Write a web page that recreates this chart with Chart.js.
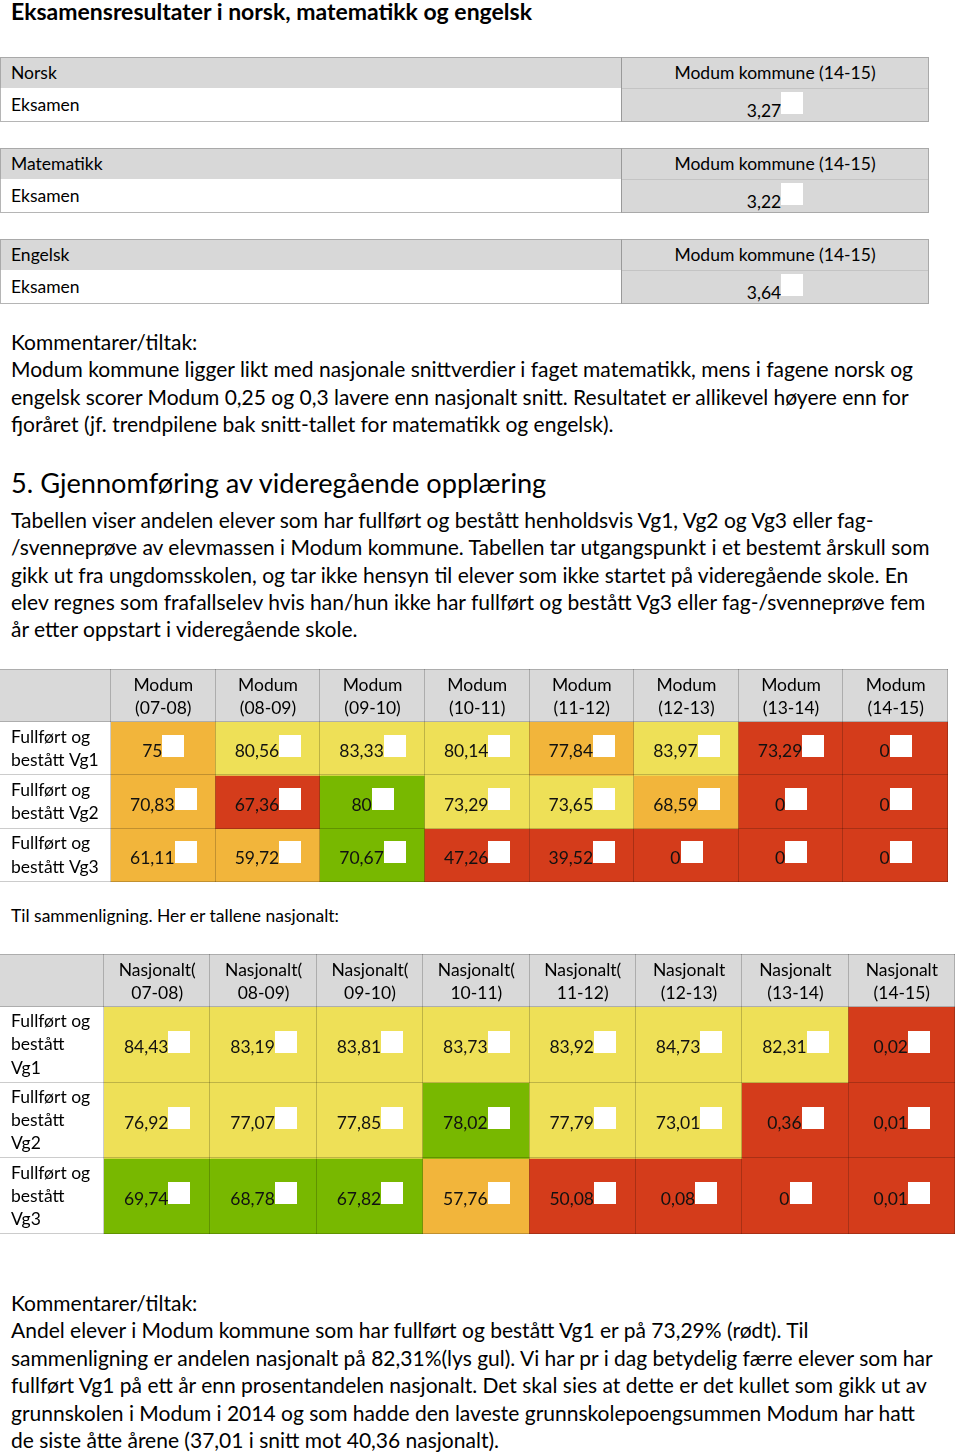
<!DOCTYPE html>
<html>
<head>
<meta charset="utf-8">
<script src="https://cdn.jsdelivr.net/npm/chart.js@4.4.0/dist/chart.umd.min.js"></script>
<style>
  body { margin: 0; width: 960px; height: 1452px; position: relative; overflow: hidden;
         font-family: Lato, 'Noto Sans', sans-serif; color: #000; background: #fff; }
  .txt { position: absolute; left: 11px; white-space: nowrap; }
  .st { position: absolute; left: 0; width: 929px; height: 65px; }
  .st div { position: absolute; box-sizing: border-box; }
  .sq { display: inline-block; width: 22px; height: 22px; background: #fff; vertical-align: 3px; }
  .wrap { position: absolute; left: 0; }
</style>
</head>
<body>
<div class="txt" style="top:-4px;font-size:23px;font-weight:bold;line-height:30px">Eksamensresultater i norsk, matematikk og engelsk</div>
<div id="smallTables"></div>
<div class="txt" style="top:328px;font-size:21px;line-height:27.3px">Kommentarer/tiltak:<br>Modum kommune ligger likt med nasjonale snittverdier i faget matematikk, mens i fagene norsk og<br>engelsk scorer Modum 0,25 og 0,3 lavere enn nasjonalt snitt. Resultatet er allikevel høyere enn for<br>fjoråret (jf. trendpilene bak snitt-tallet for matematikk og engelsk).</div>
<div class="txt" style="top:463px;font-size:27.2px;line-height:40px">5. Gjennomføring av videregående opplæring</div>
<div class="txt" style="top:506px;font-size:21px;line-height:27.3px">Tabellen viser andelen elever som har fullført og bestått henholdsvis Vg1, Vg2 og Vg3 eller fag-<br>/svenneprøve av elevmassen i Modum kommune. Tabellen tar utgangspunkt i et bestemt årskull som<br>gikk ut fra ungdomsskolen, og tar ikke hensyn til elever som ikke startet på videregående skole. En<br>elev regnes som frafallselev hvis han/hun ikke har fullført og bestått Vg3 eller fag-/svenneprøve fem<br>år etter oppstart i videregående skole.</div>
<div class="wrap" style="top:669px;width:949px;height:214px"><canvas id="modumTable"></canvas></div>
<div class="txt" style="top:904px;font-size:17.5px;line-height:24px">Til sammenligning. Her er tallene nasjonalt:</div>
<div class="wrap" style="top:954px;width:956px;height:281px"><canvas id="nasjTable"></canvas></div>
<div class="txt" style="top:1289px;font-size:21px;line-height:27.4px">Kommentarer/tiltak:<br>Andel elever i Modum kommune som har fullført og bestått Vg1 er på 73,29% (rødt). Til<br>sammenligning er andelen nasjonalt på 82,31%(lys gul). Vi har pr i dag betydelig færre elever som har<br>fullført Vg1 på ett år enn prosentandelen nasjonalt. Det skal sies at dette er det kullet som gikk ut av<br>grunnskolen i Modum i 2014 og som hadde den laveste grunnskolepoengsummen Modum har hatt<br>de siste åtte årene (37,01 i snitt mot 40,36 nasjonalt).</div>

<script>
// exam results (Modum kommune 14-15)
var subjects = ['Norsk', 'Matematikk', 'Engelsk'];
var examScores = [3.27, 3.22, 3.64];

var years = ['07-08', '08-09', '09-10', '10-11', '11-12', '12-13', '13-14', '14-15'];
var modumCols = years.map((y) => ['Modum', '(' + y + ')']);
var nasjCols = years.map((y, i) => i < 5 ? ['Nasjonalt(', y + ')'] : ['Nasjonalt', '(' + y + ')']);

var modumRows = [['Fullført og', 'bestått Vg1'], ['Fullført og', 'bestått Vg2'], ['Fullført og', 'bestått Vg3']];
var nasjRows = [['Fullført og', 'bestått', 'Vg1'], ['Fullført og', 'bestått', 'Vg2'], ['Fullført og', 'bestått', 'Vg3']];

var modumVg1 = [75, 80.56, 83.33, 80.14, 77.84, 83.97, 73.29, 0];
var modumVg2 = [70.83, 67.36, 80, 73.29, 73.65, 68.59, 0, 0];
var modumVg3 = [61.11, 59.72, 70.67, 47.26, 39.52, 0, 0, 0];
var nasjVg1 = [84.43, 83.19, 83.81, 83.73, 83.92, 84.73, 82.31, 0.02];
var nasjVg2 = [76.92, 77.07, 77.85, 78.02, 77.79, 73.01, 0.36, 0.01];
var nasjVg3 = [69.74, 68.78, 67.82, 57.76, 50.08, 0.08, 0, 0.01];

// colour level of each cell: g = green, y = yellow, o = orange, r = red
var modumLevels = [
  ['o', 'y', 'y', 'y', 'o', 'y', 'r', 'r'],
  ['o', 'r', 'g', 'y', 'y', 'o', 'r', 'r'],
  ['o', 'o', 'g', 'r', 'r', 'r', 'r', 'r'],
];
var nasjLevels = [
  ['y', 'y', 'y', 'y', 'y', 'y', 'y', 'r'],
  ['y', 'y', 'y', 'g', 'y', 'y', 'r', 'r'],
  ['g', 'g', 'g', 'o', 'r', 'r', 'r', 'r'],
];

var levelColors = {g: '#78b800', y: '#eee057', o: '#f2b53b', r: '#d43c1b'};

function fmt(v) {
  return String(v).replace('.', ',');
}

// small grey tables at the top
var holder = document.getElementById('smallTables');
subjects.forEach((s, i) => {
  var top = 57 + i * 91;
  var el = document.createElement('div');
  el.className = 'st';
  el.style.top = top + 'px';
  el.innerHTML = `
    <div style="left:0;top:0;width:929px;height:31px;background:#d8d8d8;border:1px solid #a9a9a9;border-bottom:none"></div>
    <div style="left:0;top:31px;width:622px;height:34px;background:#fff;border:1px solid #b5b5b5;border-top:none;border-right:none"></div>
    <div style="left:621px;top:0;width:308px;height:65px;border:1px solid #a9a9a9;border-left:1px solid #999"></div>
    <div style="left:622px;top:31px;width:306px;height:33px;background:#d8d8d8;border-top:1px solid #c4c4c4"></div>
    <div style="left:11px;top:4px;font-size:17.5px;line-height:24px">${s}</div>
    <div style="left:11px;top:36px;font-size:17.5px;line-height:24px">Eksamen</div>
    <div style="left:622px;width:306px;top:4px;font-size:17.5px;line-height:24px;text-align:center">Modum kommune (14-15)</div>
    <div style="left:622px;width:306px;top:35px;font-size:17.5px;line-height:24px;text-align:center">${fmt(examScores[i])}<span class="sq"></span></div>`;
  holder.appendChild(el);
});

Chart.defaults.font.family = 'Lato, "Noto Sans", sans-serif';
Chart.defaults.color = '#000';

// table cells never need extra room for the labels at the ends of an axis
function noEdgePadding(s) {
  s.paddingTop = 0;
  s.paddingBottom = 0;
  s.paddingLeft = 0;
  s.paddingRight = 0;
}

function heatTable(id, cols, rows, values, levels, labelW) {
  var headH = 53;
  var decor = {
    id: 'decor',
    beforeDraw(chart) {
      var ctx = chart.ctx;
      var a = chart.chartArea;
      ctx.save();
      ctx.fillStyle = '#d9d9d9';
      ctx.fillRect(0, 0, a.right, a.top);
      ctx.restore();
    },
    afterDatasetsDraw(chart) {
      var ctx = chart.ctx;
      var a = chart.chartArea;
      var x = chart.scales.x;
      var y = chart.scales.y;
      var n = cols.length;
      var cw = (a.right - a.left) / n;
      ctx.save();
      ctx.strokeStyle = 'rgba(0,0,0,0.2)';
      ctx.lineWidth = 1;
      ctx.beginPath();
      for (var i = 0; i <= n; i++) {
        var px = Math.round(a.left + i * cw) - 0.5;
        ctx.moveTo(px, 0);
        ctx.lineTo(px, a.bottom);
      }
      ctx.moveTo(0, 0.5);
      ctx.lineTo(a.right, 0.5);
      for (var r = 0; r <= rows.length; r++) {
        var py = Math.round(y.getPixelForValue(r)) - 0.5;
        ctx.moveTo(0, py);
        ctx.lineTo(a.right, py);
      }
      ctx.stroke();
      // value + little white box in each cell
      ctx.font = '17.5px Lato, "Noto Sans", sans-serif';
      ctx.textBaseline = 'middle';
      ctx.textAlign = 'left';
      values.forEach((row, ri) => {
        var cy = y.getPixelForValue(ri + 0.5);
        row.forEach((v, ci) => {
          var cx = x.getPixelForValue(ci);
          var label = fmt(v);
          var w = ctx.measureText(label).width;
          var sx = cx - (w + 22) / 2;
          ctx.fillStyle = '#111';
          ctx.fillText(label, sx, cy + 3);
          ctx.fillStyle = '#fff';
          ctx.fillRect(Math.round(sx + w), Math.round(cy - 14), 22, 22);
        });
      });
      ctx.restore();
    },
  };

  new Chart(document.getElementById(id), {
    type: 'bar',
    data: {
      labels: cols,
      datasets: rows.map((r, i) => ({
        label: r.join(' '),
        data: values[i].map(() => 1),
        backgroundColor: levels[i].map((l) => levelColors[l]),
        borderWidth: 0,
        barPercentage: 1,
        categoryPercentage: 1,
      })),
    },
    options: {
      responsive: true,
      maintainAspectRatio: false,
      animation: false,
      devicePixelRatio: 1,
      layout: {padding: {left: 11, top: 0, right: 1, bottom: 1}},
      plugins: {legend: {display: false}, tooltip: {enabled: false}},
      scales: {
        x: {
          position: 'top',
          stacked: true,
          grid: {display: false},
          border: {display: false},
          ticks: {font: {size: 17.5, lineHeight: 1.32}, padding: -6, maxRotation: 0, autoSkip: false},
          afterFit: (s) => { s.height = headH; noEdgePadding(s); },
        },
        y: {
          stacked: true,
          reverse: true,
          min: 0,
          max: rows.length,
          grid: {display: false},
          border: {display: false},
          afterBuildTicks: (s) => { s.ticks = rows.map((r, i) => ({value: i + 0.5})); },
          ticks: {crossAlign: 'far', font: {size: 17.5, lineHeight: 1.32}, callback: (v, i) => rows[i]},
          afterFit: (s) => { s.width = labelW - 11; noEdgePadding(s); },
        },
      },
    },
    plugins: [decor],
  });
}

heatTable('modumTable', modumCols, modumRows, [modumVg1, modumVg2, modumVg3], modumLevels, 111);
heatTable('nasjTable', nasjCols, nasjRows, [nasjVg1, nasjVg2, nasjVg3], nasjLevels, 104);
</script>
</body>
</html>
